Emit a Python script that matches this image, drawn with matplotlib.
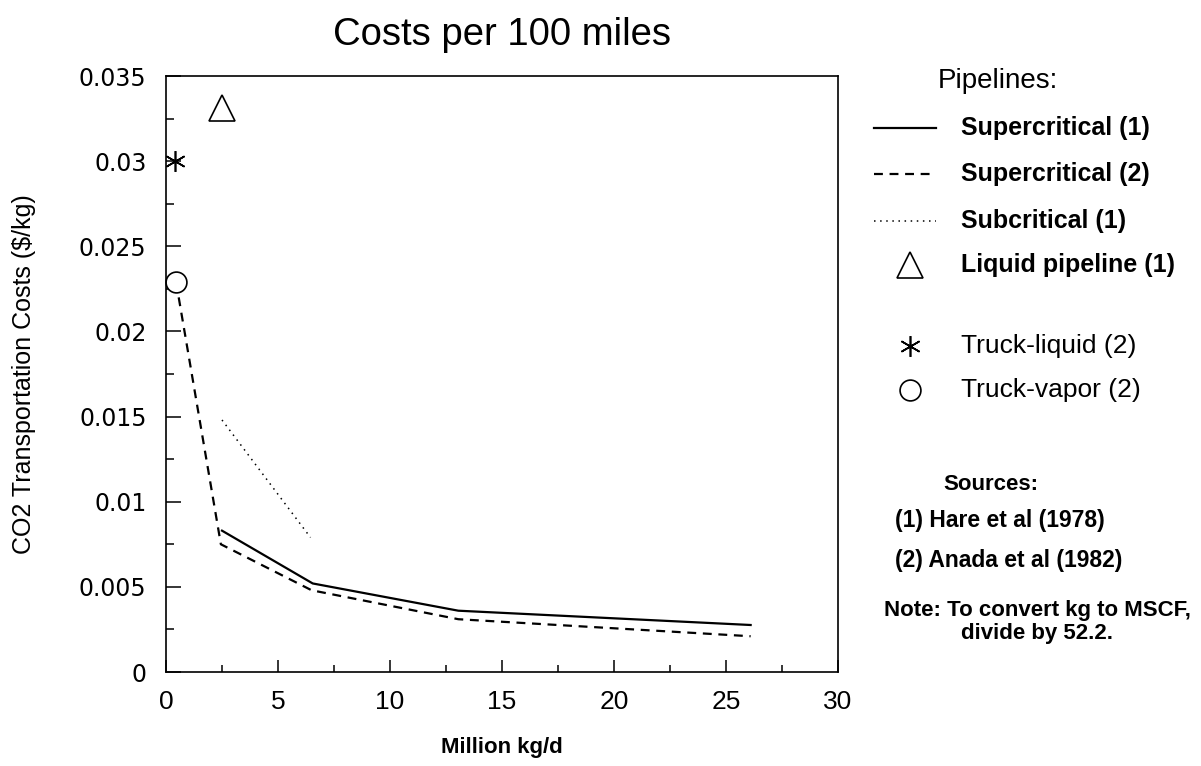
import matplotlib
matplotlib.use("Agg")
import matplotlib.pyplot as plt
from matplotlib.lines import Line2D
from matplotlib.ticker import MultipleLocator, FuncFormatter

plt.rcParams["font.family"] = ["Liberation Sans", "DejaVu Sans"]

# data (Million kg/d, $/kg)
super1_x = [2.5, 6.55, 13.05, 26.1]
super1_y = [0.0083, 0.0052, 0.0036, 0.00276]
super2_x = [0.45, 2.45, 6.5, 13.05, 26.1]
super2_y = [0.0229, 0.0075, 0.0048, 0.0031, 0.0021]
sub1_x = [2.5, 6.45]
sub1_y = [0.0148, 0.0079]
liquid_x = [2.5]
liquid_y = [0.0331]
truck_liq_x = [0.4]
truck_liq_y = [0.0300]
truck_vap_x = [0.45]
truck_vap_y = [0.0229]

labels = ["Supercritical (1)", "Supercritical (2)", "Subcritical (1)",
          "Liquid pipeline (1)", "Truck-liquid (2)", "Truck-vapor (2)"]
sources = ["(1) Hare et al (1978)", "(2) Anada et al (1982)"]
note = "Note: To convert kg to MSCF,\ndivide by 52.2."

W, H = 1201, 766
fig = plt.figure(figsize=(W / 100, H / 100), dpi=100)
ax = fig.add_axes([166 / W, 1 - 672 / H, (838 - 166) / W, (672 - 76) / H])

solid = dict(color="black", lw=1.6, linestyle="-")
dashed = dict(color="black", lw=1.6, linestyle=(0, (4, 3)))
dotted = dict(color="black", lw=1.1, linestyle=(0, (1, 3)))
tri = dict(marker="^", ms=19, mfc="none", mec="black", mew=1.2, linestyle="none")
star = dict(marker=(6, 2, 0), ms=15, mec="black", mew=1.2, linestyle="none")
circ = dict(marker="o", ms=15, mfc="white", mec="black", mew=1.2, linestyle="none")

ax.plot(super1_x, super1_y, **solid)
ax.plot(super2_x, super2_y, **dashed)
ax.plot(sub1_x, sub1_y, **dotted)
ax.plot(liquid_x, liquid_y, clip_on=False, **tri)
ax.plot(truck_liq_x, truck_liq_y, clip_on=False, **star)
ax.plot(truck_vap_x, truck_vap_y, clip_on=False, **circ)

ax.set_xlim(0, 30)
ax.set_ylim(0, 0.035)
ax.xaxis.set_major_locator(MultipleLocator(5))
ax.xaxis.set_minor_locator(MultipleLocator(2.5))
ax.yaxis.set_major_locator(MultipleLocator(0.005))
ax.yaxis.set_minor_locator(MultipleLocator(0.0025))
ax.yaxis.set_major_formatter(
    FuncFormatter(lambda v, _: "0" if abs(v) < 1e-12 else f"{v:.3f}".rstrip("0")))

ax.tick_params(axis="both", which="both", direction="in", width=1.1,
               top=False, right=False)
ax.tick_params(axis="x", which="major", length=9, pad=13, labelsize=19)
ax.tick_params(axis="x", which="minor", length=5)
ax.tick_params(axis="y", which="major", length=11, pad=14, labelsize=18)
ax.tick_params(axis="y", which="minor", length=6)
for lab in ax.get_yticklabels():
    lab.set_family("DejaVu Sans")
    lab.set_fontsize(17)
for sp in ax.spines.values():
    sp.set_linewidth(1.2)

ax.set_title("Costs per 100 miles", fontsize=27.5, pad=22)
ax.set_xlabel("Million kg/d", fontsize=16, fontweight="bold", va="center")
ax.xaxis.set_label_coords(0.5, (672 - 748) / (672 - 76))
ax.set_ylabel("CO2 Transportation Costs ($/kg)", fontsize=18, va="center")
ax.yaxis.set_label_coords((24 - 166) / (838 - 166), 0.5)

# key on the right, laid out in figure pixels
def fx(px):
    return px / W

def fy(py):
    return 1 - py / H

fig.text(fx(998), fy(81), "Pipelines:", fontsize=20, ha="center", va="center")
styles = [solid, dashed, dotted, tri, star, circ]
rows = [128, 174, 221, 265, 346, 390]
weights = ["bold", "bold", "bold", "bold", "normal", "normal"]
for lab, st, yy, wt in zip(labels, styles, rows, weights):
    if st.get("marker"):
        fig.add_artist(Line2D([fx(910)], [fy(yy)], transform=fig.transFigure, **st))
    else:
        fig.add_artist(Line2D([fx(874), fx(936)], [fy(yy), fy(yy)],
                              transform=fig.transFigure, **st))
    fig.text(fx(961), fy(yy), lab, fontsize=18 if wt == "bold" else 19,
             fontweight=wt, ha="left", va="center")

fig.text(fx(991), fy(485), "Sources:", fontsize=16, fontweight="bold",
         ha="center", va="center")
for s, yy in zip(sources, [521, 560]):
    fig.text(fx(895), fy(yy), s, fontsize=16.5, fontweight="bold",
             ha="left", va="center")
fig.text(fx(1037), fy(622), note, fontsize=16, fontweight="bold",
         ha="center", va="center", multialignment="center", linespacing=1.15)

fig.savefig("out.png", dpi=100)
